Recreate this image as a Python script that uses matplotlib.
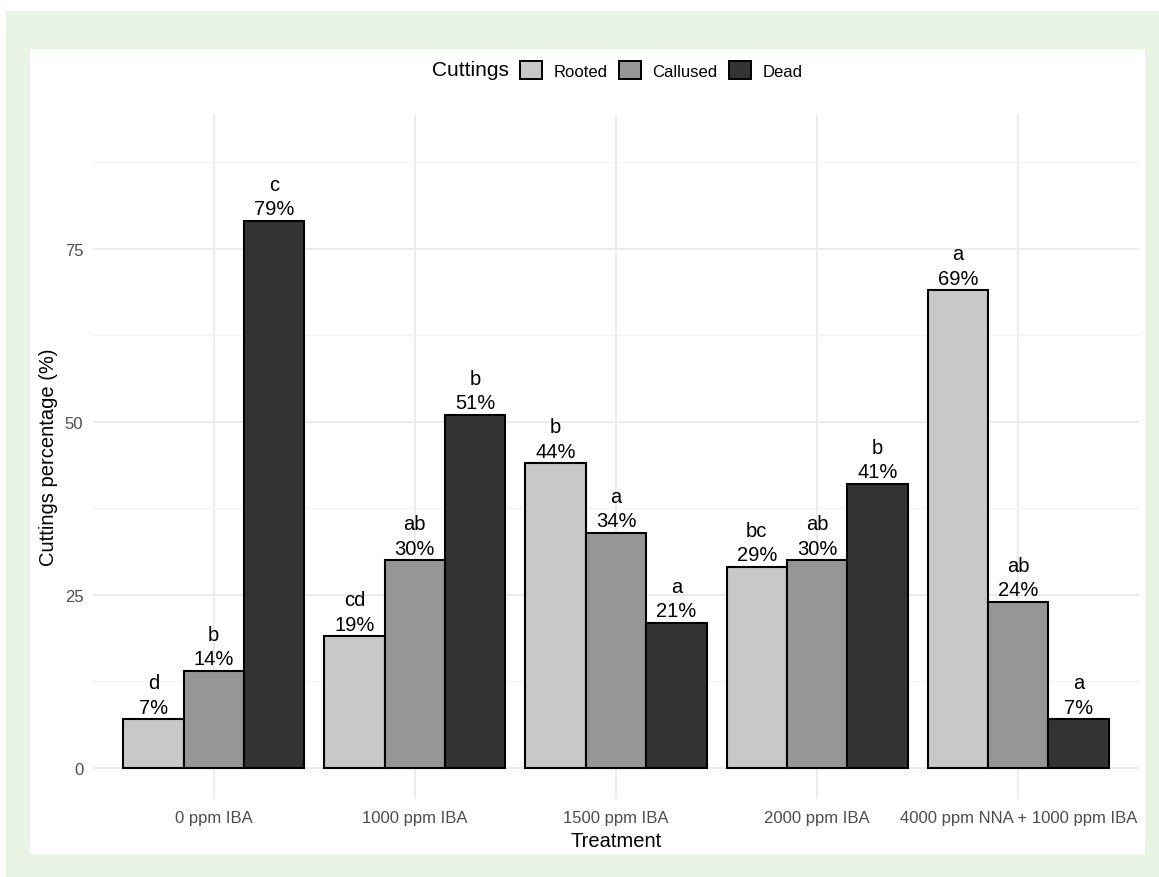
import numpy as np
import matplotlib
matplotlib.use("Agg")
import matplotlib.pyplot as plt
from matplotlib.patches import Rectangle, Patch

plt.rcParams["font.family"] = ["Liberation Sans", "DejaVu Sans"]

treatments = ["0 ppm IBA", "1000 ppm IBA", "1500 ppm IBA", "2000 ppm IBA",
              "4000 ppm NNA + 1000 ppm IBA"]
groups = ["Rooted", "Callused", "Dead"]
rooted = [7, 19, 44, 29, 69]
callused = [14, 30, 34, 30, 24]
dead = [79, 51, 21, 41, 7]
letters_rooted = ["d", "cd", "b", "bc", "a"]
letters_callused = ["b", "ab", "a", "ab", "ab"]
letters_dead = ["c", "b", "a", "b", "a"]
y_ticks = [0, 25, 50, 75]

fills = ["#c8c8c8", "#969696", "#333333"]
values = [rooted, callused, dead]
letters = [letters_rooted, letters_callused, letters_dead]

W, H = 1159, 878
fig = plt.figure(figsize=(W / 100, H / 100), dpi=100)
fig.patch.set_facecolor("white")

# green frame and white card behind the plot
fig.patches.append(Rectangle((6 / W, 0), 1 - 6 / W, (H - 12) / H,
                             transform=fig.transFigure, facecolor="#e9f4e4",
                             edgecolor="none", zorder=-2))
fig.patches.append(Rectangle((30 / W, 1 - 855 / H), 1115 / W, 805 / H,
                             transform=fig.transFigure, facecolor="white",
                             edgecolor="none", zorder=-1))

ax = fig.add_axes([93 / W, 1 - 800 / H, (1139 - 93) / W, (800 - 115) / H])
ax.set_facecolor("none")

x = np.arange(1, len(treatments) + 1)
bw = 0.3
for i, (vals, col, lets) in enumerate(zip(values, fills, letters)):
    xs = x + (i - 1) * bw
    ax.bar(xs, vals, width=bw, color=col, edgecolor="black", linewidth=1.5,
           zorder=3)
    for xi, v, l in zip(xs, vals, lets):
        ax.annotate(f"{l}\n{v}%", xy=(xi, v), xytext=(0, 2),
                    textcoords="offset points", ha="center", va="bottom",
                    fontsize=14.5, linespacing=1.35, color="black", zorder=4)

ax.set_xlim(0.4, 5.6)
ax.set_ylim(-4.5, 94.5)
ax.set_yticks(y_ticks)
ax.set_yticks([12.5, 37.5, 62.5, 87.5], minor=True)
ax.set_xticks(x)
ax.set_xticklabels(treatments)

ax.grid(True, which="major", color="#ebebeb", lw=1.3, zorder=0)
ax.grid(True, which="minor", axis="y", color="#f2f2f2", lw=0.8, zorder=0)
ax.tick_params(which="both", length=0)
ax.tick_params(axis="y", pad=7, labelsize=12, labelcolor="#4d4d4d")
ax.tick_params(axis="x", pad=8, labelsize=12, labelcolor="#4d4d4d")
for s in ax.spines.values():
    s.set_visible(False)

ax.set_xlabel("Treatment", fontsize=14.5, va="center")
ax.xaxis.set_label_coords(0.5, (800 - 842) / 685)
ax.set_ylabel("Cuttings percentage (%)", fontsize=14.5, va="center")
ax.yaxis.set_label_coords((49 - 93) / 1046, 0.5)

handles = [Patch(facecolor=c, edgecolor="black", linewidth=1.4) for c in fills]
leg = fig.legend(handles, groups, ncol=3, loc="center left",
                 bbox_to_anchor=(520 / W, 1 - 71 / H), frameon=False,
                 fontsize=12, handlelength=1.3, handleheight=1.3,
                 handletextpad=0.7, columnspacing=0.7, borderpad=0,
                 borderaxespad=0)
fig.text(509 / W, 1 - 71 / H, "Cuttings", ha="right", va="center",
         fontsize=15)

fig.savefig("out.png", dpi=100)
